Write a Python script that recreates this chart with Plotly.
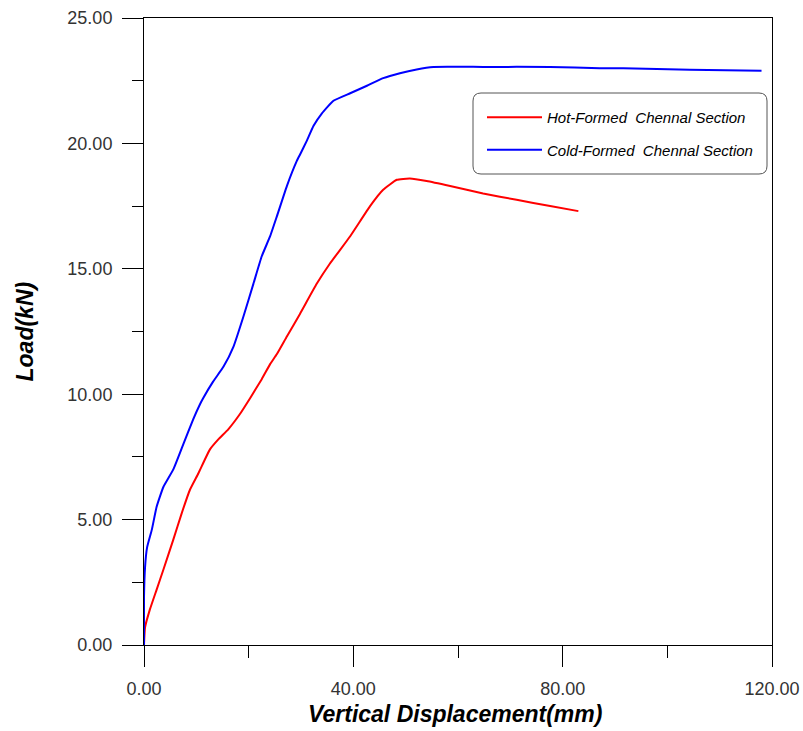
import plotly.graph_objects as go

# ---- data ----
cold_x = [0.0, 0.0, 0.2, 0.6, 1.5, 2.4, 3.7, 5.6, 7.5, 9.4, 10.7, 11.3, 13.2, 15.2, 17.1,
          19.0, 20.9, 22.5, 24.1, 25.4, 27.3, 29.2, 29.8, 31.1, 32.4, 34.0, 36.2, 39.4,
          42.6, 45.7, 48.9, 52.1, 55.3, 64.8, 77.6, 87.1, 91.6, 104.3, 118.0]
cold_y = [0.0, 1.9, 3.1, 3.9, 4.6, 5.5, 6.3, 7.0, 8.0, 9.0, 9.6, 9.84, 10.5, 11.1, 11.9,
          13.1, 14.4, 15.5, 16.3, 17.1, 18.3, 19.3, 19.55, 20.1, 20.7, 21.2, 21.7, 22.0,
          22.3, 22.6, 22.8, 22.95, 23.05, 23.05, 23.05, 23.0, 23.0, 22.94, 22.9]

hot_x = [0.0, 0.2, 1.1, 2.4, 3.7, 5.6, 7.2, 8.8, 10.4, 12.6, 14.2, 16.1, 18.3, 20.3, 22.5,
         24.1, 25.4, 27.3, 29.8, 33.0, 35.5, 39.4, 43.2, 45.7, 48.3, 50.8, 54.0, 58.5,
         64.8, 71.2, 77.6, 83.0]
hot_y = [0.0, 0.7, 1.4, 2.2, 3.0, 4.2, 5.25, 6.2, 6.85, 7.8, 8.2, 8.6, 9.2, 9.85, 10.6,
         11.2, 11.6, 12.3, 13.2, 14.4, 15.2, 16.3, 17.5, 18.15, 18.55, 18.6, 18.5, 18.3,
         18.0, 17.75, 17.5, 17.3]

x_ticks = [0, 40, 80, 120]
x_tick_labels = ["0.00", "40.00", "80.00", "120.00"]
y_ticks = [0, 5, 10, 15, 20, 25]
y_tick_labels = ["0.00", "5.00", "10.00", "15.00", "20.00", "25.00"]

hot_name = "Hot-Formed  Chennal Section"
cold_name = "Cold-Formed  Chennal Section"
x_title = "Vertical Displacement(mm)"
y_title = "Load(kN)"

FONT = "Liberation Sans, Arial, sans-serif"

fig = go.Figure()
fig.add_trace(go.Scatter(x=hot_x, y=hot_y, mode="lines", name=hot_name,
                         legendgroup="a",
                         line=dict(color="#ff0000", width=2, shape="spline", smoothing=0.4)))
fig.add_trace(go.Scatter(x=cold_x, y=cold_y, mode="lines", name=cold_name,
                         legendgroup="b",
                         line=dict(color="#0000ff", width=2, shape="spline", smoothing=0.4)))

axis_common = dict(showgrid=False, zeroline=False, showline=True, linecolor="black",
                   linewidth=1, mirror=True, ticks="outside", ticklen=21, tickwidth=1,
                   tickcolor="black",
                   tickfont=dict(family=FONT, size=18, color="#333333"))

fig.update_xaxes(range=[0, 120], tickvals=x_ticks, ticktext=x_tick_labels,
                 minor=dict(dtick=20, tick0=0, ticks="outside", ticklen=12,
                            tickcolor="black", tickwidth=1, showgrid=False),
                 ticklabelstandoff=6, **axis_common)
fig.update_yaxes(range=[0, 25], tickvals=y_ticks, ticktext=y_tick_labels,
                 minor=dict(dtick=2.5, tick0=0, ticks="outside", ticklen=11,
                            tickcolor="black", tickwidth=1, showgrid=False),
                 ticklabelstandoff=6, **axis_common)

W, H = 803, 731
ml, mr, mt, mb = 144, 31, 18, 86
pw, ph = W - ml - mr, H - mt - mb

def px2paper(px, py):
    return (px - ml) / pw, (H - mb - py) / ph

# rounded legend frame
x0, y1 = px2paper(473, 93)
x1, y0 = px2paper(767, 174)
rx, ry = 8 / pw, 8 / ph
path = (f"M{x0+rx},{y1} L{x1-rx},{y1} Q{x1},{y1} {x1},{y1-ry} L{x1},{y0+ry} "
        f"Q{x1},{y0} {x1-rx},{y0} L{x0+rx},{y0} Q{x0},{y0} {x0},{y0+ry} "
        f"L{x0},{y1-ry} Q{x0},{y1} {x0+rx},{y1} Z")
fig.add_shape(type="path", path=path, xref="paper", yref="paper",
              line=dict(color="#555555", width=1), fillcolor="rgba(0,0,0,0)")

lx, ly = px2paper(482, 101)
fig.update_layout(
    width=W, height=H,
    margin=dict(l=ml, r=mr, t=mt, b=mb, autoexpand=False),
    paper_bgcolor="white", plot_bgcolor="white",
    showlegend=True,
    legend=dict(x=lx, y=ly, xanchor="left", yanchor="top",
                bgcolor="rgba(0,0,0,0)", borderwidth=0,
                traceorder="grouped", tracegroupgap=10, itemwidth=55,
                font=dict(family=FONT, size=15, color="black", style="italic")),
    annotations=[
        dict(text=x_title, xref="paper", yref="paper", x=0.495, y=0, yshift=-69,
             showarrow=False, xanchor="center", yanchor="middle",
             font=dict(family=FONT, size=23, color="black", weight="bold", style="italic")),
        dict(text=y_title, xref="paper", yref="paper", x=0, y=0.5, xshift=-120,
             showarrow=False, xanchor="center", yanchor="middle", textangle=-90,
             font=dict(family=FONT, size=23, color="black", weight="bold", style="italic")),
    ],
)

fig.write_html("out.html")
